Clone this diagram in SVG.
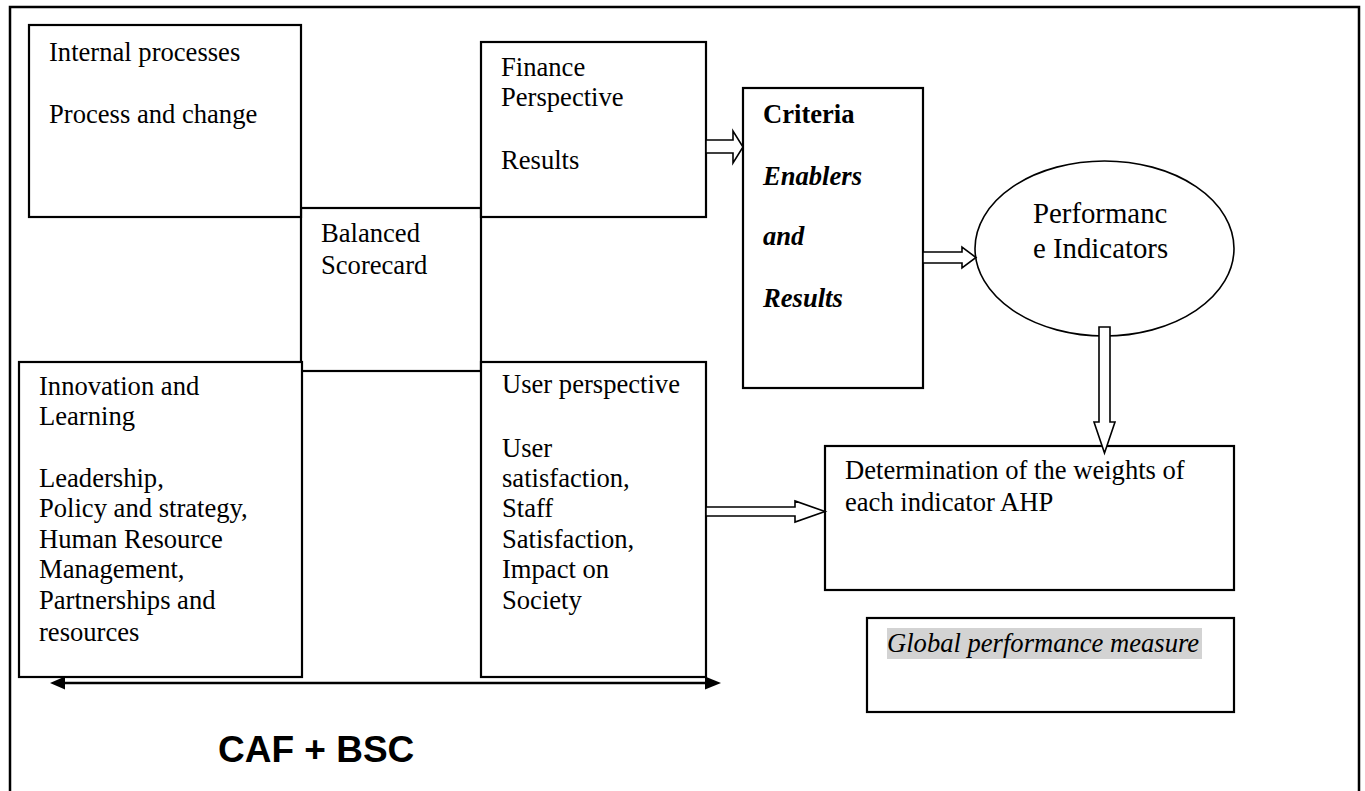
<svg xmlns="http://www.w3.org/2000/svg" width="1365" height="791" viewBox="0 0 1365 791">
<style>
.box{fill:#fff;stroke:#000;stroke-width:2.2}
.t{font-family:"Liberation Serif","Times New Roman",serif;font-size:26.6px;fill:#000}
.b{font-weight:bold}
.bi{font-weight:bold;font-style:italic}
.i{font-style:italic}
.blk{fill:#fff;stroke:#000;stroke-width:1.6;stroke-linejoin:miter}
</style>
<rect width="1365" height="791" fill="#fff"/>
<path d="M10,795 V7 H1359 V795" fill="none" stroke="#000" stroke-width="2.5"/>

<g id="balanced">
<rect class="box" x="301" y="208" width="180" height="163"/>
<text class="t" x="321" y="242">Balanced</text>
<text class="t" x="321" y="274">Scorecard</text>
</g>

<g id="internal">
<rect class="box" x="29" y="25" width="272" height="192"/>
<text class="t" x="49" y="61">Internal processes</text>
<text class="t" x="49" y="123">Process and change</text>
</g>

<g id="finance">
<rect class="box" x="481" y="42" width="225" height="175"/>
<text class="t" x="501" y="76">Finance</text>
<text class="t" x="501" y="106">Perspective</text>
<text class="t" x="501" y="169">Results</text>
</g>

<g id="innovation">
<rect class="box" x="19" y="362" width="283" height="315"/>
<text class="t" x="39" y="395">Innovation and</text>
<text class="t" x="39" y="425">Learning</text>
<text class="t" x="39" y="487">Leadership,</text>
<text class="t" x="39" y="517">Policy and strategy,</text>
<text class="t" x="39" y="548">Human Resource</text>
<text class="t" x="39" y="578">Management,</text>
<text class="t" x="39" y="609">Partnerships and</text>
<text class="t" x="39" y="641">resources</text>
</g>

<g id="user">
<rect class="box" x="481" y="362" width="225" height="315"/>
<text class="t" x="502" y="393">User perspective</text>
<text class="t" x="502" y="457">User</text>
<text class="t" x="502" y="487">satisfaction,</text>
<text class="t" x="502" y="517">Staff</text>
<text class="t" x="502" y="548">Satisfaction,</text>
<text class="t" x="502" y="578">Impact on</text>
<text class="t" x="502" y="609">Society</text>
</g>

<g id="criteria">
<rect class="box" x="743" y="88" width="180" height="300"/>
<text class="t b" x="763" y="123">Criteria</text>
<text class="t bi" x="763" y="185">Enablers</text>
<text class="t bi" x="763" y="245">and</text>
<text class="t bi" x="763" y="307">Results</text>
</g>

<g id="indicators">
<ellipse cx="1104.5" cy="248.5" rx="129.5" ry="87.5" fill="#fff" stroke="#000" stroke-width="1.6"/>
<text class="t" x="1033" y="223" style="font-size:28.8px">Performanc</text>
<text class="t" x="1033" y="258" style="font-size:28.8px">e Indicators</text>
</g>

<g id="determination">
<rect class="box" x="825" y="446" width="409" height="144"/>
<text class="t" x="845" y="479">Determination of the weights of</text>
<text class="t" x="845" y="511">each indicator AHP</text>
</g>

<g id="global">
<rect class="box" x="867" y="618" width="367" height="94"/>
<rect x="887" y="628" width="315" height="31" fill="#d3d3d3"/>
<text class="t i" x="887" y="652">Global performance measure</text>
</g>

<g id="caf-bsc">
<text x="218" y="762" font-family="'Liberation Sans',Arial,sans-serif" font-weight="bold" font-size="37px" fill="#000">CAF + BSC</text>
</g>

<g id="connectors">
<polygon class="blk" points="706,140 733,140 733,131 743,147 733,163 733,153 706,153"/>
<polygon class="blk" points="923,252 962,252 962,247 976,257.5 962,268 962,263 923,263"/>
<polygon class="blk" points="706,507 795,507 795,501 825,511.5 795,522 795,516 706,516"/>
<polygon class="blk" points="1099,327 1110,327 1110,422 1115,422 1104.5,453 1094,422 1099,422"/>
<line x1="60" y1="683" x2="712" y2="683" stroke="#000" stroke-width="2.5"/>
<polygon points="50,683 65,676.5 65,689.5" fill="#000"/>
<polygon points="721,683 705,676.5 705,689.5" fill="#000"/>
</g>
</svg>
